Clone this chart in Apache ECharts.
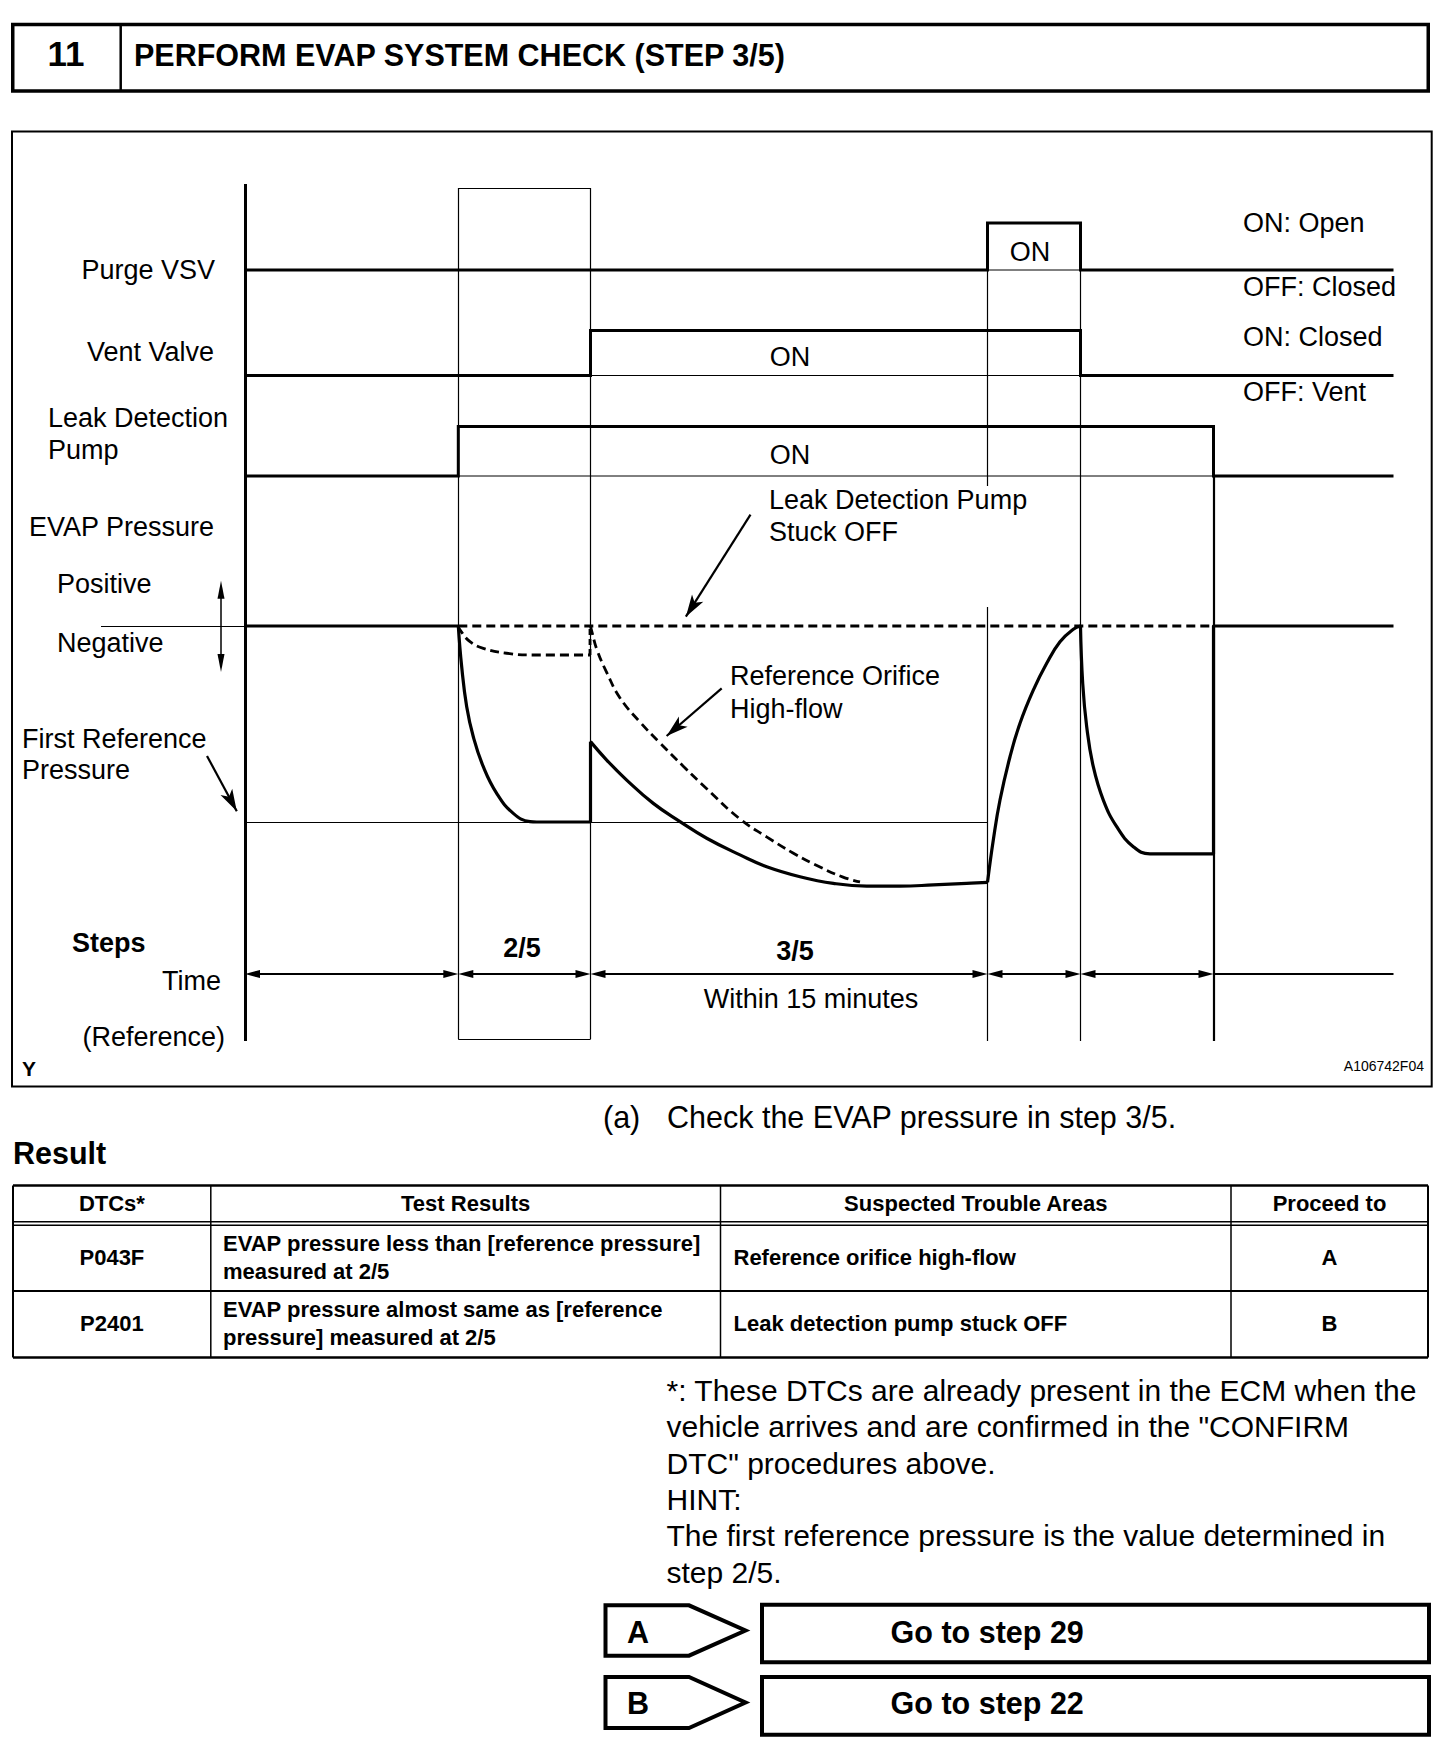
<!DOCTYPE html>
<html>
<head>
<meta charset="utf-8">
<title>Perform EVAP system check (step 3/5)</title>
<script src="https://cdn.jsdelivr.net/npm/echarts@6/dist/echarts.min.js"></script>
<style>
  html, body { margin: 0; padding: 0; background: #fff; }
  #chart { width: 1456px; height: 1752px; }
</style>
</head>
<body>
<div id="chart"></div>
<script>
// ---- data -------------------------------------------------------------
// time in arbitrary units, 0 = the vertical axis of the timing chart
var stepTimes = [0, 21.33, 34.55, 74.25, 83.55, 96.85];
var endTime = 114.85;
var stepNames = ['2/5', '3/5'];

// switching signals: [time, state], 1 = ON
var purgeVsv = [[0, 0], [74.25, 1], [83.55, 0], [endTime, 0]];
var ventValve = [[0, 0], [34.55, 1], [83.55, 0], [endTime, 0]];
var leakPump = [[0, 0], [21.33, 1], [96.85, 0], [endTime, 0]];

// EVAP pressure: 0 = atmosphere, -1 = first reference pressure
var pressBefore = [[0, 0], [21.33, 0]];
var pressStep2 = [[21.33, 0], [21.67, -0.208], [22.17, -0.412], [22.83, -0.565], [23.83, -0.718],
  [25.17, -0.854], [26.83, -0.956], [28.5, -0.998], [29.17, -1], [34.55, -1]];
var pressJump = [[34.55, -1], [34.55, -0.59]];
var pressStep3 = [[34.55, -0.59], [36.17, -0.684], [38.17, -0.786], [40.83, -0.905], [43.5, -0.998],
  [46.17, -1.083], [49.5, -1.168], [52.17, -1.228], [55.5, -1.279], [58.83, -1.313], [62.17, -1.327],
  [65.5, -1.327], [68.83, -1.321], [72.17, -1.313], [74.25, -1.308]];
var pressPurge = [[74.25, -1.308], [74.83, -1.092], [75.5, -0.888], [76.5, -0.667], [77.5, -0.496],
  [78.83, -0.327], [80.17, -0.19], [81.5, -0.08], [82.83, -0.017], [83.55, 0]];
var pressStep4 = [[83.55, 0], [83.77, -0.292], [84.17, -0.514], [84.83, -0.718], [85.83, -0.888],
  [87.17, -1.024], [88.83, -1.126], [90.5, -1.163], [96.85, -1.163]];
var pressAfter = [[96.85, -1.163], [96.85, 0], [endTime, 0]];

// failure cases (dashed)
var stuckOff = [[21.33, 0], [96.85, 0]];
var highFlow2 = [[21.33, 0], [21.5, -0.02], [22.5, -0.08], [23.83, -0.114], [26.17, -0.139],
  [28.83, -0.148], [34.5, -0.148]];
var highFlowJump = [[34.5, -0.148], [34.5, 0]];
var highFlow3 = [[34.55, 0], [34.7, -0.031], [35.2, -0.122], [36.2, -0.24], [37.5, -0.367],
  [39.5, -0.49], [41.5, -0.597], [43.8, -0.714], [46.2, -0.832], [49.5, -0.985], [52.2, -1.077],
  [54.8, -1.158], [57.5, -1.23], [59.8, -1.281], [61.5, -1.306]];

// result table
var tableHead = ['DTCs*', 'Test Results', 'Suspected Trouble Areas', 'Proceed to'];
var tableDtc = ['P043F', 'P2401'];
var tableResult = [['EVAP pressure less than [reference pressure]', 'measured at 2/5'],
                   ['EVAP pressure almost same as [reference', 'pressure] measured at 2/5']];
var tableArea = ['Reference orifice high-flow', 'Leak detection pump stuck OFF'];
var tableGo = ['A', 'B'];
var goSteps = ['Go to step 29', 'Go to step 22'];
var notes = ['*: These DTCs are already present in the ECM when the',
  'vehicle arrives and are confirmed in the "CONFIRM',
  'DTC" procedures above.',
  'HINT:',
  'The first reference pressure is the value determined in',
  'step 2/5.'];

// ---- layout -----------------------------------------------------------
var FONT = '"Liberation Sans", Arial, Helvetica, sans-serif';
var BLACK = '#000';
var BOX = { left: 11, top: 131, width: 1421, height: 955 };
var TMIN = -23.4, TMAX = 118.7;       // 10 px per time unit, 0 at x = 245
var XS = 10, PS = 196;                // px per time unit / per pressure unit
var ZERO_Y = 626;
var ROW_Y = 974;                       // time arrows

var chart = echarts.init(document.getElementById('chart'), null, { renderer: 'svg' });

function timeAxis(i) {
  return { type: 'value', gridIndex: i, min: TMIN, max: TMAX, show: false };
}
function gridAt(top, height) {
  return { left: BOX.left, top: top, width: BOX.width, height: height, outerBoundsMode: 'none' };
}

function trace(data, axis, width, extra) {
  var s = {
    type: 'line', xAxisIndex: axis, yAxisIndex: axis, data: data,
    symbol: 'none', showSymbol: false, clip: false, silent: true,
    animation: false, emphasis: { disabled: true },
    lineStyle: { color: BLACK, width: width, cap: 'butt', join: 'round' }
  };
  extra = extra || {};
  if (extra.dash) s.lineStyle.type = extra.dash;
  if (extra.smooth) s.smooth = 0.45;
  if (extra.step) { s.step = 'end'; s.lineStyle.join = 'miter'; }
  return s;
}

// pull arrow ends back by half the head length, so the tip lands on the target
function pull(from, to, sx, sy, hf, ht) {
  var dx = (to[0] - from[0]) * sx, dy = (to[1] - from[1]) * sy;
  var len = Math.sqrt(dx * dx + dy * dy);
  var a = hf / 2 / len, b = ht / 2 / len;
  return [[from[0] + (to[0] - from[0]) * a, from[1] + (to[1] - from[1]) * a],
          [to[0] - (to[0] - from[0]) * b, to[1] - (to[1] - from[1]) * b]];
}

function segs(list, axis, width, symFrom, symTo, size) {
  return {
    type: 'lines', coordinateSystem: 'cartesian2d', xAxisIndex: axis, yAxisIndex: axis,
    polyline: false, silent: true, animation: false, z: 4,
    symbol: [symFrom || 'none', symTo || 'none'],
    symbolSize: size ? [size, size] : 0,
    lineStyle: { color: BLACK, width: width, opacity: 1, curveness: 0 },
    data: list.map(function (c) { return { coords: c }; })
  };
}

// time arrows between the step boundaries
var timeArrows = [];
for (var i = 0; i < stepTimes.length - 1; i++) {
  timeArrows.push(pull([stepTimes[i], ROW_Y], [stepTimes[i + 1], ROW_Y], XS, 1, 15, 15));
}

var series = [
  // frame guides (grid 0, y = page px)
  segs([[[0, 184], [0, 1041]]], 0, 3),
  segs([
    [[21.33, 188], [34.55, 188]], [[34.55, 188], [34.55, 1039.3]],
    [[34.55, 1039.3], [21.33, 1039.3]], [[21.33, 1039.3], [21.33, 188]],
    [[74.25, 270], [74.25, 486]], [[74.25, 607], [74.25, 1041]],
    [[83.55, 270], [83.55, 1041]]
  ], 0, 1.2),
  segs([[[96.85, 476], [96.85, 1041]]], 0, 2.2),
  segs([[[96.85, ROW_Y], [endTime, ROW_Y]]], 0, 2),
  segs(timeArrows, 0, 2, 'triangle', 'triangle', [8, 15]),

  // pressure guides and pointers (grid 1)
  segs([[[-14.4, 0], [0, 0]], [[0, -1], [74.25, -1]]], 1, 1.2),
  segs([pull([-2.4, 0.231], [-2.4, -0.235], XS, PS, 18, 18)], 1, 1.5, 'triangle', 'triangle', [7, 18]),
  segs([
    pull([50.55, 0.568], [43.5, 0.0], XS, PS, 0, 22),
    pull([47.67, -0.318], [41.33, -0.598], XS, PS, 0, 22),
    pull([-3.8, -0.663], [-0.3, -0.995], XS, PS, 0, 22)
  ], 1, 2.2, 'none', 'arrow', [10, 22]),

  // pressure traces
  trace(pressBefore, 1, 3.2),
  trace(pressStep2, 1, 3.2, { smooth: true }),
  trace(pressJump, 1, 3.2),
  trace(pressStep3, 1, 3.2, { smooth: true }),
  trace(pressPurge, 1, 3.2, { smooth: true }),
  trace(pressStep4, 1, 3.2, { smooth: true }),
  trace(pressAfter, 1, 3.2),
  trace(stuckOff, 1, 2.8, { dash: [9, 5] }),
  trace(highFlow2, 1, 2.8, { dash: [9, 5], smooth: true }),
  trace(highFlowJump, 1, 2.8, { dash: [6, 4] }),
  trace(highFlow3, 1, 2.8, { dash: [9, 5], smooth: true }),

  // switching signals
  trace(purgeVsv, 2, 3, { step: true }),
  trace([[74.25, 0], [83.55, 0]], 2, 1),
  trace(ventValve, 3, 3, { step: true }),
  trace([[34.55, 0], [83.55, 0]], 3, 1),
  trace(leakPump, 4, 3, { step: true }),
  trace([[21.33, 0], [96.85, 0]], 4, 1)
];

// ---- static text and boxes --------------------------------------------
function txt(s, x, y, size, opt) {
  opt = opt || {};
  var al = opt.align || 'left';
  return {
    type: 'text', x: x, y: y, silent: true, z: 10,
    style: {
      text: s, fill: BLACK, fontFamily: FONT, fontSize: size,
      fontWeight: opt.bold ? 'bold' : 'normal',
      align: al, verticalAlign: 'middle', textAlign: al, textVerticalAlign: 'middle'
    }
  };
}
function ln(x1, y1, x2, y2, w) {
  return { type: 'line', silent: true, z: 8, shape: { x1: x1, y1: y1, x2: x2, y2: y2 },
           style: { stroke: BLACK, lineWidth: w } };
}
function box(x, y, w, h, lw) {
  return { type: 'rect', silent: true, z: 8, shape: { x: x, y: y, width: w, height: h },
           style: { fill: 'none', stroke: BLACK, lineWidth: lw } };
}
function tag(top, bottom, lw) {
  var mid = (top + bottom) / 2;
  return { type: 'polygon', silent: true, z: 8,
           shape: { points: [[605.5, top], [689, top], [745.5, mid], [689, bottom], [605.5, bottom]] },
           style: { fill: 'none', stroke: BLACK, lineWidth: lw, lineJoin: 'miter' } };
}

var L = 27;      // diagram labels
var P = 30.5;    // body text
var els = [
  // header
  box(12.75, 24.5, 1415.5, 66.5, 3.5),
  ln(120.7, 24.5, 120.7, 91, 2.5),
  txt('11', 66, 53, 35, { bold: true, align: 'center' }),
  txt('PERFORM EVAP SYSTEM CHECK (STEP 3/5)', 134, 55, 30.5, { bold: true }),

  // diagram frame and labels
  box(12, 131.5, 1419.7, 955, 2),
  txt('Purge VSV', 215, 270, L, { align: 'right' }),
  txt('Vent Valve', 214, 352, L, { align: 'right' }),
  txt('Leak Detection', 48, 418, L),
  txt('Pump', 48, 450, L),
  txt('EVAP Pressure', 29, 527, L),
  txt('Positive', 57, 584, L),
  txt('Negative', 57, 643, L),
  txt('First Reference', 22, 739, L),
  txt('Pressure', 22, 770, L),
  txt('Steps', 72, 943, L, { bold: true }),
  txt('Time', 221, 981, L, { align: 'right' }),
  txt('(Reference)', 225, 1037, L, { align: 'right' }),
  txt('Y', 22, 1068, 21, { bold: true }),
  txt('A106742F04', 1424, 1066, 14, { align: 'right' }),
  txt('ON', 1030, 252, L, { align: 'center' }),
  txt('ON', 790, 357, L, { align: 'center' }),
  txt('ON', 790, 455, L, { align: 'center' }),
  txt('Leak Detection Pump', 769, 500, L),
  txt('Stuck OFF', 769, 532, L),
  txt('Reference Orifice', 730, 676, L),
  txt('High-flow', 730, 709, L),
  txt(stepNames[0], 522, 948, L, { bold: true, align: 'center' }),
  txt(stepNames[1], 795, 951, L, { bold: true, align: 'center' }),
  txt('Within 15 minutes', 811, 999, L, { align: 'center' }),
  txt('ON: Open', 1243, 223, L),
  txt('OFF: Closed', 1243, 287, L),
  txt('ON: Closed', 1243, 337, L),
  txt('OFF: Vent', 1243, 392, L),

  // below the diagram
  txt('(a)', 603, 1117, P),
  txt('Check the EVAP pressure in step 3/5.', 667, 1117, P),
  txt('Result', 13, 1153, P, { bold: true })
];

// result table
var colX = [13, 210.8, 720.5, 1231, 1428];
var rowMid = [1257.5, 1323.3];
els.push(ln(colX[0], 1185.5, colX[4], 1185.5, 2.5));
els.push(ln(colX[0], 1221.7, colX[4], 1221.7, 1.5));
els.push(ln(colX[0], 1225.3, colX[4], 1225.3, 1.5));
els.push(ln(colX[0], 1291, colX[4], 1291, 2));
els.push(ln(colX[0], 1357.5, colX[4], 1357.5, 2.5));
colX.forEach(function (x, k) {
  els.push(ln(x, 1185.5, x, 1357.5, (k === 0 || k === 4) ? 2 : 1.5));
});
var TF = 22;
tableHead.forEach(function (h, k) {
  els.push(txt(h, (colX[k] + colX[k + 1]) / 2, 1203.5, TF, { bold: true, align: 'center' }));
});
for (var r = 0; r < 2; r++) {
  var yc = rowMid[r];
  els.push(txt(tableDtc[r], (colX[0] + colX[1]) / 2, yc, TF, { bold: true, align: 'center' }));
  els.push(txt(tableResult[r][0], 223, yc - 14.2, TF, { bold: true }));
  els.push(txt(tableResult[r][1], 223, yc + 14.2, TF, { bold: true }));
  els.push(txt(tableArea[r], 733.5, yc, TF, { bold: true }));
  els.push(txt(tableGo[r], (colX[3] + colX[4]) / 2, yc, TF, { bold: true, align: 'center' }));
}

// notes
notes.forEach(function (s, k) {
  els.push(txt(s, 666.5, 1390.5 + k * 36.3, 30));
});

// A / B go-to boxes
els.push(tag(1605.3, 1655.7, 4));
els.push(box(762, 1604.7, 667, 57.6, 4));
els.push(txt(tableGo[0], 638, 1631.7, P, { bold: true, align: 'center' }));
els.push(txt(goSteps[0], 890.6, 1631.7, P, { bold: true }));
els.push(tag(1677, 1728, 4));
els.push(box(762, 1677, 667, 57.7, 4));
els.push(txt(tableGo[1], 638, 1703.3, P, { bold: true, align: 'center' }));
els.push(txt(goSteps[1], 890.6, 1703.3, P, { bold: true }));

chart.setOption({
  animation: false,
  backgroundColor: '#fff',
  grid: [
    gridAt(BOX.top, BOX.height),     // 0 frame, y = page px
    gridAt(BOX.top, BOX.height),     // 1 EVAP pressure
    gridAt(223, 47),                 // 2 purge VSV
    gridAt(330.5, 45),               // 3 vent valve
    gridAt(426.5, 49.5)              // 4 leak detection pump
  ],
  xAxis: [timeAxis(0), timeAxis(1), timeAxis(2), timeAxis(3), timeAxis(4)],
  yAxis: [
    { type: 'value', gridIndex: 0, min: BOX.top, max: BOX.top + BOX.height, inverse: true, show: false },
    { type: 'value', gridIndex: 1, min: -(BOX.top + BOX.height - ZERO_Y) / PS, max: (ZERO_Y - BOX.top) / PS, show: false },
    { type: 'value', gridIndex: 2, min: 0, max: 1, show: false },
    { type: 'value', gridIndex: 3, min: 0, max: 1, show: false },
    { type: 'value', gridIndex: 4, min: 0, max: 1, show: false }
  ],
  series: series,
  graphic: { elements: els }
});
</script>
</body>
</html>
